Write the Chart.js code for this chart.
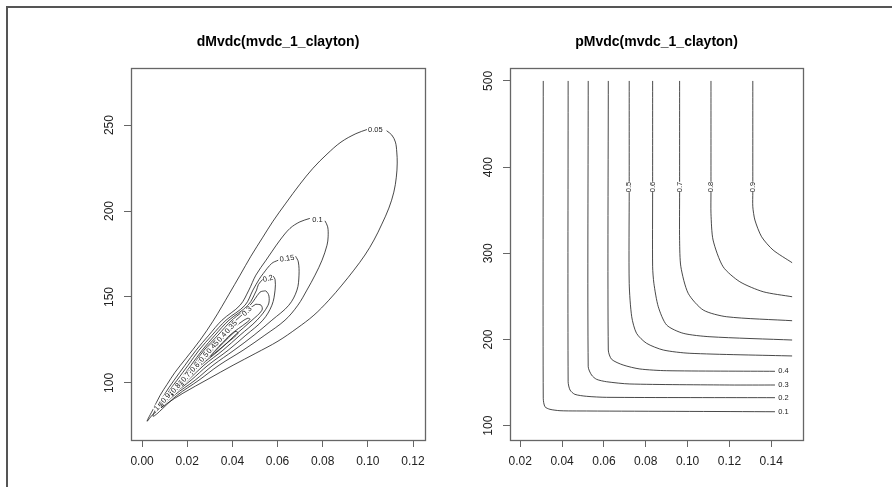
<!DOCTYPE html>
<html>
<head>
<meta charset="utf-8">
<script src="https://cdn.jsdelivr.net/npm/chart.js@4.4.1/dist/chart.umd.min.js"></script>
<style>
  html, body { margin: 0; padding: 0; background: #fff; }
  #wrap { position: relative; width: 892px; height: 487px; overflow: hidden; }
  #frame { position: absolute; left: 6px; top: 6px; width: 900px; height: 500px;
           border-top: 2px solid #555; border-left: 2px solid #555; }
  canvas { position: absolute; top: 0; }
  #dens { left: 0; }
  #dist { left: 446px; }
</style>
</head>
<body>
<div id="wrap">
  <div id="frame"></div>
  <canvas id="dens" width="446" height="487"></canvas>
  <canvas id="dist" width="446" height="487"></canvas>
</div>
<script>
// ---- left panel: dMvdc density contours ----
const densTitle = 'dMvdc(mvdc_1_clayton)'
const densXRange = [-0.0049, 0.1253]
const densYRange = [66.8, 283.2]
const densXTicks = [0, 0.02, 0.04, 0.06, 0.08, 0.10, 0.12]
const densYTicks = [100, 150, 200, 250]

// each contour is a list of [x, y]; null = gap where the label sits
const dens005 = [[0.0996,247.4],[0.0947,245.0],[0.0881,240.1],[0.0819,233.1],[0.0757,224.9],[0.0699,215.6],[0.0637,204.6],[0.0580,194.1],[0.0535,184.8],[0.0482,173.7],[0.0434,162.7],[0.0385,151.6],[0.0354,144.6],[0.0314,135.9],[0.0257,124.9],[0.0195,114.4],[0.0146,106.2],[0.0111,99.2],[0.0080,92.8],[0.0049,84.7],[0.0022,77.7],[0.0049,81.8],[0.0106,87.6],[0.0181,94.0],[0.0292,102.2],[0.0403,110.3],[0.0504,117.3],[0.0602,124.3],[0.0686,131.8],[0.0761,139.4],[0.0827,148.1],[0.0885,156.9],[0.0938,165.6],[0.0987,174.4],[0.1027,183.1],[0.1062,192.4],[0.1093,201.7],[0.1115,211.0],[0.1126,219.7],[0.1130,227.9],[0.1128,234.3],[0.1122,240.1],[0.1106,244.2],[0.1083,246.7]]
const dens01 = [[0.0810,194.3],[0.0822,190.8],[0.0824,185.0],[0.0819,180.1],[0.0797,171.4],[0.0766,162.7],[0.0730,154.0],[0.0690,145.2],[0.0633,136.5],[0.0544,127.8],[0.0447,119.0],[0.0341,110.3],[0.0252,101.6],[0.0155,92.8],[0.0049,80.6],[0.0097,92.8],[0.0142,101.6],[0.0190,110.3],[0.0239,119.0],[0.0296,127.8],[0.0354,136.5],[0.0434,145.2],[0.0473,154.0],[0.0504,162.7],[0.0549,171.4],[0.0574,176.2],[0.0611,183.1],[0.0655,189.9],[0.0699,193.7],[0.0743,195.7]]
const dens015 = [[0.0680,173.7],[0.0692,170.4],[0.0695,162.7],[0.0686,154.0],[0.0650,145.2],[0.0575,136.5],[0.0496,127.8],[0.0407,119.0],[0.0314,110.3],[0.0235,101.6],[0.0142,92.8],[0.0066,83.5],[0.0106,92.8],[0.0155,101.6],[0.0204,110.3],[0.0252,119.0],[0.0310,127.8],[0.0372,136.5],[0.0456,145.2],[0.0491,154.0],[0.0518,160.2],[0.0537,163.7],[0.0574,169.5],[0.0603,171.4]]
const dens02 = [[0.0581,162.1],[0.0589,160.2],[0.0589,154.0],[0.0575,145.2],[0.0535,136.5],[0.0460,127.8],[0.0381,119.0],[0.0292,110.3],[0.0217,101.6],[0.0133,92.8],[0.0084,86.4],[0.0115,92.8],[0.0168,101.6],[0.0217,110.3],[0.0266,119.0],[0.0323,127.8],[0.0385,136.5],[0.0469,145.2],[0.0507,154.0],[0.0515,157.2],[0.0534,160.2]]
const dens025 = [[0.0535,153.4],[0.0522,152.8],[0.0478,145.2],[0.0398,136.5],[0.0336,127.8],[0.0274,119.0],[0.0226,110.3],[0.0177,101.6],[0.0119,91.7],[0.0102,89.3],[0.0128,92.3],[0.0204,101.6],[0.0274,110.3],[0.0358,119.0],[0.0434,127.8],[0.0509,136.5],[0.0558,145.2],[0.0562,150.5],[0.0549,153.4],[0.0535,153.4]]
const dens03 = [[0.0504,145.8],[0.0478,143.5],[0.0416,136.5],[0.0345,127.8],[0.0283,119.0],[0.0235,110.3],[0.0186,101.6],[0.0133,93.4],[0.0124,92.3],[0.0195,101.6],[0.0261,110.3],[0.0341,119.0],[0.0412,127.8],[0.0487,136.5],[0.0531,142.3],[0.0527,145.2],[0.0504,145.8]]
const dens035 = [[0.0469,137.7],[0.0451,136.5],[0.0363,127.8],[0.0296,119.0],[0.0248,110.3],[0.0230,107.4],[0.0252,109.7],[0.0323,119.0],[0.0389,127.8],[0.0465,135.3],[0.0478,137.1],[0.0469,137.7]]
const dens04 = [[0.0416,130.1],[0.0403,128.9],[0.0363,123.7],[0.0319,117.9],[0.0301,115.5],[0.0327,117.9],[0.0381,123.7],[0.0425,128.9],[0.0416,130.1]]
const dens045a = [[0.0181,101.0],[0.0204,105.1],[0.0226,106.8],[0.0212,103.3],[0.0181,101.0]]
const dens045b = [[0.0115,92.3],[0.0137,96.3],[0.0155,96.9],[0.0142,93.4],[0.0115,92.3]]
const densContours = [dens005, dens01, dens015, dens02, dens025, dens03, dens035, dens04, dens045a, dens045b]

// [text, x, y, angle, white background]
const densLabels = [
  ['0.05', 0.1033, 247.4, 0, false],
  ['0.1', 0.0777, 195.0, 0, false],
  ['0.15', 0.0642, 172.3, -8, false],
  ['0.2', 0.0558, 160.6, -15, false],
  ['0.3', 0.0465, 141.7, -45, true],
  ['0.35', 0.0394, 132.4, -48, true],
  ['0.4', 0.0354, 126.6, -48, true],
  ['0.45', 0.0314, 120.8, -48, true],
  ['0.5', 0.0274, 115.0, -48, true],
  ['0.6', 0.0235, 109.1, -48, true],
  ['0.7', 0.0195, 103.3, -48, true],
  ['0.8', 0.0150, 96.9, -48, true],
  ['0.9', 0.0106, 91.1, -48, true],
  ['1', 0.0066, 85.3, -48, true]
]

// ---- right panel: pMvdc distribution contours ----
const distTitle = 'pMvdc(mvdc_1_clayton)'
const distXRange = [0.0151, 0.1552]
const distYRange = [83.4, 515]
const distXTicks = [0.02, 0.04, 0.06, 0.08, 0.10, 0.12, 0.14]
const distYTicks = [100, 200, 300, 400, 500]

const dist01 = [[0.0310,500],[0.0310,131.8],[0.0318,122.0],[0.0342,119.0],[0.0390,117.4],[0.0470,117.1],[0.1418,116.2]]
const dist02 = [[0.0429,500],[0.0429,151.0],[0.0438,141.4],[0.0461,136.4],[0.0517,134.1],[0.0613,132.9],[0.1418,132.5]]
const dist03 = [[0.0525,500],[0.0525,168.4],[0.0541,158.8],[0.0565,153.8],[0.0613,151.0],[0.0724,148.4],[0.1202,147.2],[0.1418,147.2]]
const dist04 = [[0.0621,500],[0.0621,187.8],[0.0637,177.0],[0.0692,170.4],[0.0772,165.8],[0.0900,163.8],[0.1418,163.1]]
const dist05 = [[0.0721,500],[0.0721,383],null,[0.0721,371],[0.0721,265],[0.0733,226.4],[0.0756,207.2],[0.0804,195.6],[0.0884,187.8],[0.1011,184.0],[0.15,180.9]]
const dist06 = [[0.0833,500],[0.0833,383],null,[0.0833,371],[0.0833,284.4],[0.0839,265.2],[0.0860,238.0],[0.0900,216.8],[0.0979,207.2],[0.1107,203.2],[0.15,199.4]]
const dist07 = [[0.0962,500],[0.0962,383],null,[0.0962,371],[0.0962,315],[0.0968,284.4],[0.1003,253.6],[0.1075,234.2],[0.1187,226.4],[0.15,221.8]]
const dist08 = [[0.1112,500],[0.1112,383],null,[0.1112,371],[0.1112,346],[0.1122,315.4],[0.1170,284.4],[0.1250,267.0],[0.1362,255.4],[0.15,249.6]]
const dist09 = [[0.1312,500],[0.1312,383],null,[0.1312,371],[0.1312,354],[0.1322,338.6],[0.1354,319.2],[0.1409,303.8],[0.15,289.1]]
const distContours = [dist01, dist02, dist03, dist04, dist05, dist06, dist07, dist08, dist09]

const distLabels = [
  ['0.1', 0.1458, 116.2, 0, false],
  ['0.2', 0.1458, 132.5, 0, false],
  ['0.3', 0.1458, 147.2, 0, false],
  ['0.4', 0.1458, 163.1, 0, false],
  ['0.5', 0.0721, 377, -90, false],
  ['0.6', 0.0833, 377, -90, false],
  ['0.7', 0.0962, 377, -90, false],
  ['0.8', 0.1112, 377, -90, false],
  ['0.9', 0.1312, 377, -90, false]
]

const FONT = '"Liberation Sans", Arial, sans-serif'

function toPoints(list) {
  let lastX = 0
  return list.map(function(p) {
    if (p === null) return { x: lastX, y: null }
    lastX = p[0]
    return { x: p[0], y: p[1] }
  })
}

// draws the R-like parts: box, rotated y labels, contour labels, title
function rPlot(title, yTicks, labels) {
  return {
    id: 'rPlot',
    afterDatasetsDraw(chart) {
      let ctx = chart.ctx
      let xs = chart.scales.x, ys = chart.scales.y
      ctx.save()
      ctx.font = '7.5px ' + FONT
      ctx.textAlign = 'center'
      ctx.textBaseline = 'middle'
      labels.forEach(function(l) {
        let px = xs.getPixelForValue(l[1]), py = ys.getPixelForValue(l[2])
        ctx.save()
        ctx.translate(px, py)
        ctx.rotate(l[3] * Math.PI / 180)
        if (l[4]) {
          let w = ctx.measureText(l[0]).width + 2
          ctx.fillStyle = '#fff'
          ctx.fillRect(-w / 2, -3.5, w, 7)
        }
        ctx.fillStyle = '#222'
        ctx.fillText(l[0], 0, 0)
        ctx.restore()
      })
      ctx.restore()
    },
    afterDraw(chart) {
      let ctx = chart.ctx
      let a = chart.chartArea
      let ys = chart.scales.y
      ctx.save()
      ctx.strokeStyle = '#666'
      ctx.lineWidth = 1.3
      ctx.strokeRect(Math.round(a.left) + 0.5, Math.round(a.top) + 0.5,
        Math.round(a.right - a.left), Math.round(a.bottom - a.top))
      ctx.fillStyle = '#222'
      ctx.font = '12px ' + FONT
      ctx.textAlign = 'center'
      ctx.textBaseline = 'middle'
      yTicks.forEach(function(v) {
        ctx.save()
        ctx.translate(a.left - 21, ys.getPixelForValue(v))
        ctx.rotate(-Math.PI / 2)
        ctx.fillText(String(v), 0, 0)
        ctx.restore()
      })
      ctx.fillStyle = '#000'
      ctx.font = 'bold 14px ' + FONT
      ctx.fillText(title, (a.left + a.right) / 2, a.top - 25.5)
      ctx.restore()
    }
  }
}

function makeChart(id, cfg) {
  return new Chart(document.getElementById(id), {
    type: 'scatter',
    data: {
      datasets: cfg.contours.map(function(c) {
        return {
          data: toPoints(c),
          showLine: true,
          pointRadius: 0,
          borderColor: '#1a1a1a',
          borderWidth: 0.8,
          tension: cfg.tension,
          spanGaps: false,
          fill: false
        }
      })
    },
    options: {
      responsive: false,
      animation: false,
      layout: { padding: cfg.padding },
      plugins: { legend: { display: false }, tooltip: { enabled: false }, title: { display: false } },
      scales: {
        x: {
          type: 'linear', position: 'bottom',
          min: cfg.xRange[0], max: cfg.xRange[1],
          afterBuildTicks: function(s) { s.ticks = cfg.xTicks.map(function(v) { return { value: v } }) },
          afterFit: function(s) { s.height = 40 },
          grid: { drawOnChartArea: false, drawTicks: true, tickLength: 7, color: '#666' },
          border: { display: false },
          ticks: {
            autoSkip: false, maxRotation: 0, padding: 7, color: '#222',
            font: { family: FONT, size: 12 },
            callback: function(v) { return Number(v).toFixed(2) }
          }
        },
        y: {
          type: 'linear', position: 'left',
          min: cfg.yRange[0], max: cfg.yRange[1],
          afterBuildTicks: function(s) { s.ticks = cfg.yTicks.map(function(v) { return { value: v } }) },
          afterFit: function(s) { s.width = 10 },
          grid: { drawOnChartArea: false, drawTicks: true, tickLength: 7, color: '#666' },
          border: { display: false },
          ticks: { display: false }
        }
      }
    },
    plugins: [rPlot(cfg.title, cfg.yTicks, cfg.labels)]
  })
}

makeChart('dens', {
  title: densTitle, contours: densContours, labels: densLabels, tension: 0.35,
  xRange: densXRange, yRange: densYRange, xTicks: densXTicks, yTicks: densYTicks,
  padding: { left: 121, right: 21, top: 68, bottom: 7 }
})

makeChart('dist', {
  title: distTitle, contours: distContours, labels: distLabels, tension: 0.25,
  xRange: distXRange, yRange: distYRange, xTicks: distXTicks, yTicks: distYTicks,
  padding: { left: 54, right: 89, top: 68, bottom: 7 }
})
</script>
</body>
</html>
